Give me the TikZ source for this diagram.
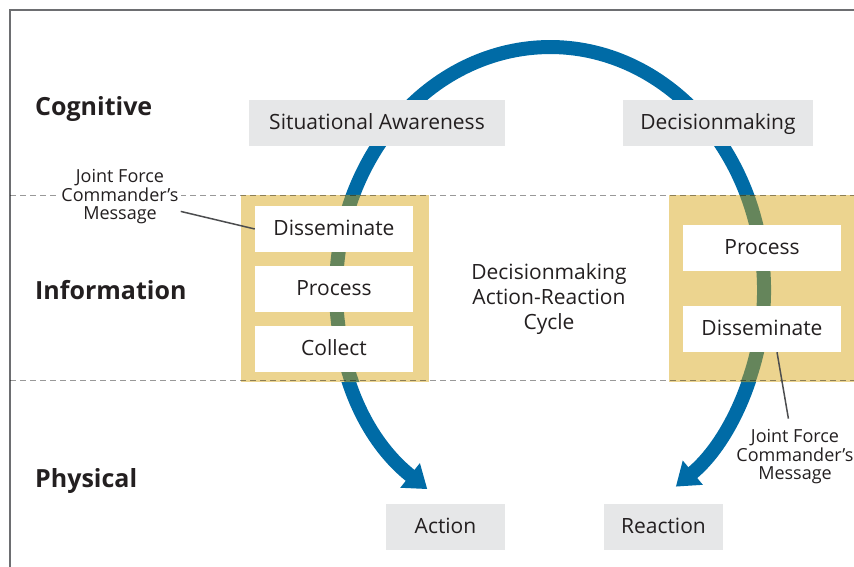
\documentclass[tikz,border=0pt]{standalone}
\usepackage{fontspec}
\setmainfont{Open Sans}
\usepackage{tikz}
\usetikzlibrary{arrows.meta, positioning}
\definecolor{cycleblue}{HTML}{006BA6}
\definecolor{cyclegreen}{HTML}{65855B}
\definecolor{infoyellow}{HTML}{ECD48F}
\definecolor{boxgrey}{HTML}{E6E7E8}
\definecolor{inkdark}{HTML}{231F20}
\definecolor{framegrey}{HTML}{6D6E71}
\tikzstyle{greybox} = [rectangle, minimum width=119pt, minimum height=46pt, text height=13pt, text depth=0pt, inner sep=0pt, fill=boxgrey, text=inkdark, font=\fontsize{21}{25}\selectfont]
\tikzstyle{whitebox} = [rectangle, minimum width=158pt, minimum height=46pt, text height=13pt, text depth=0pt, inner sep=0pt, fill=white, text=inkdark, font=\fontsize{21}{25}\selectfont]
\tikzstyle{panel} = [rectangle, inner sep=0pt, minimum height=187pt, fill=infoyellow]
\tikzstyle{plane} = [anchor=base west, inner sep=0pt, text=inkdark, font=\fontsize{25}{30}\selectfont\bfseries]
\tikzstyle{jfcnote} = [align=center, inner sep=2pt, fill=white, text=inkdark, font=\fontsize{18}{18.5}\selectfont]
\tikzstyle{callout} = [draw=framegrey!70!black, line width=1.5pt]
\tikzstyle{layerline} = [black, opacity=0.4, line width=1.2pt, dash pattern=on 6pt off 4pt]
\tikzstyle{cyclearrow} = [cycleblue, line width=14pt, >={Triangle[length=22pt,width=30pt]}, <->]

\begin{document}
\begin{tikzpicture}[x=1pt, y=-1pt, node distance=60pt]
	\useasboundingbox (0,0) rectangle (854,567);
	\draw[framegrey, line width=1.5pt] (10,567) -- (10,10) -- (854,10);
	%----------------------------------------------------%
	\draw[cyclearrow] (427.3,489.1) arc[start angle=125, end angle=414, x radius=214, y radius=243];
	\node(panL) [panel, minimum width=188pt] at (335,288.5) {};
	\node(panR) [panel, minimum width=191pt] at (764.5,288.5) {};
	\begin{scope}
		\clip (panL.south west) rectangle (panL.north east) (panR.south west) rectangle (panR.north east);
		\draw[cyclegreen, line width=14pt] (427.3,489.1) arc[start angle=125, end angle=414, x radius=214, y radius=243];
	\end{scope}
	\draw[layerline] (10,195.5) -- (854,195.5);
	\draw[layerline] (10,380.5) -- (854,380.5);
	%----------------------------------------------------%
	\node(cog) [plane] at (35,116) {Cognitive};
	\node(inf) [plane] at (35,299) {Information};
	\node(phy) [plane] at (35,487) {Physical};
	%----------------------------------------------------%
	\node(sitaw) [greybox, minimum width=256pt] at (377,123) {Situational Awareness};
	\node(decmk) [greybox, minimum width=190pt, right of=sitaw, xshift=281pt] {Decisionmaking};
	\node(action) [greybox] at (445.5,526.5) {Action};
	\node(react) [greybox, right of=action, xshift=158pt] {Reaction};
	%----------------------------------------------------%
	\node(dissL) [whitebox] at (334,229) {Disseminate};
	\node(procL) [whitebox, below of=dissL] {Process};
	\node(collL) [whitebox, below of=procL] {Collect};
	\node(procR) [whitebox, right of=dissL, xshift=368pt, yshift=-19pt] {Process};
	\node(dissR) [whitebox, below of=procR, yshift=-21pt] {Disseminate};
	%----------------------------------------------------%
	\node(cyctxt) [align=center, text=inkdark, font=\fontsize{21}{25}\selectfont] at (549,299) {Decisionmaking\\Action-Reaction\\Cycle};
	\node(jfcL) [jfcnote] at (120,197) {Joint Force\\Commander’s\\Message};
	\node(jfcR) [jfcnote, fill=none] at (795,457) {Joint Force\\Commander’s\\Message};
	\draw[callout] (jfcL) -- (dissL.west);
	\draw[callout, shorten >=9pt] ([xshift=15pt]dissR.south) -- (jfcR);
\end{tikzpicture}
\end{document}
